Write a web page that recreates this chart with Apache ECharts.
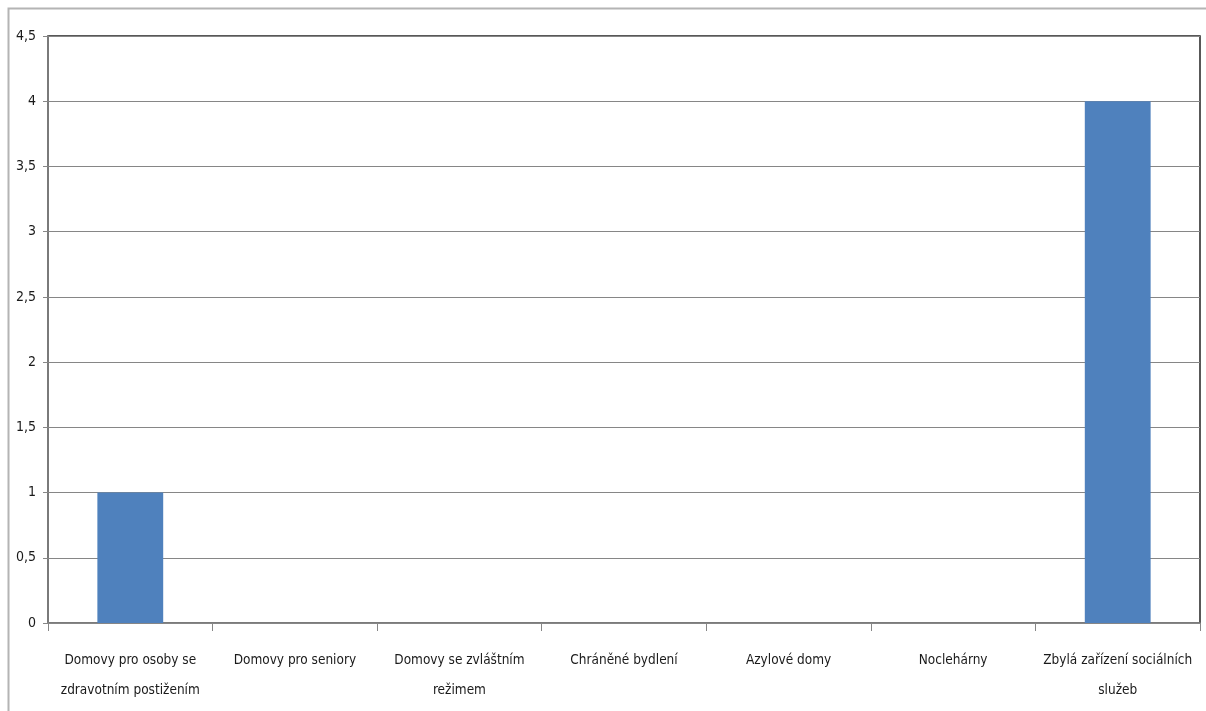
<!DOCTYPE html>
<html>
<head>
<meta charset="utf-8">
<script src="https://cdn.jsdelivr.net/npm/echarts@6/dist/echarts.min.js"></script>
<style>
html,body{margin:0;padding:0;background:#fff;}
#c{width:1206px;height:711px;}
</style>
</head>
<body>
<div id="c"></div>
<script>
const categories = [
  "Domovy pro osoby se\nzdravotním postižením",
  "Domovy pro seniory",
  "Domovy se zvláštním\nrežimem",
  "Chráněné bydlení",
  "Azylové domy",
  "Noclehárny",
  "Zbylá zařízení sociálních\nslužeb"
];
const values = [1, 0, 0, 0, 0, 0, 4];
const yMin = 0, yMax = 4.5, yStep = 0.5;

const FONT = "'Liberation Sans Narrow', 'DejaVu Sans Condensed', 'Liberation Sans', sans-serif";
const chart = echarts.init(document.getElementById('c'), null, {renderer: 'canvas'});
chart.setOption({
  animation: false,
  backgroundColor: '#fff',
  graphic: [{
    type: 'rect', shape: {x: 8.5, y: 8.5, width: 1220, height: 720},
    style: {fill: null, stroke: '#b4b4b4', lineWidth: 2}, z: -1
  }],
  grid: {
    left: 48, right: 6, top: 36, bottom: 88,
    show: true, borderColor: '#222', borderWidth: 1.5, backgroundColor: 'transparent'
  },
  xAxis: {
    type: 'category', data: categories,
    axisLine: {lineStyle: {color: '#868686', width: 1.5}},
    axisTick: {show: true, alignWithLabel: false, length: 8, lineStyle: {color: '#868686'}},
    axisLabel: {
      interval: 0, color: '#1a1a1a', fontFamily: FONT, fontSize: 13.5,
      lineHeight: 30, margin: 22
    }
  },
  yAxis: {
    type: 'value', min: yMin, max: yMax, interval: yStep,
    axisLine: {show: true, lineStyle: {color: '#868686', width: 1.5}},
    axisTick: {show: true, length: 5, lineStyle: {color: '#868686'}},
    splitLine: {lineStyle: {color: '#868686', width: 1.2}},
    axisLabel: {
      color: '#1a1a1a', fontFamily: FONT, fontSize: 14, margin: 12,
      formatter: v => String(v).replace('.', ',')
    }
  },
  series: [{
    type: 'bar', data: values, barWidth: '40%',
    itemStyle: {color: '#4f81bd'}
  }]
});
</script>
</body>
</html>
